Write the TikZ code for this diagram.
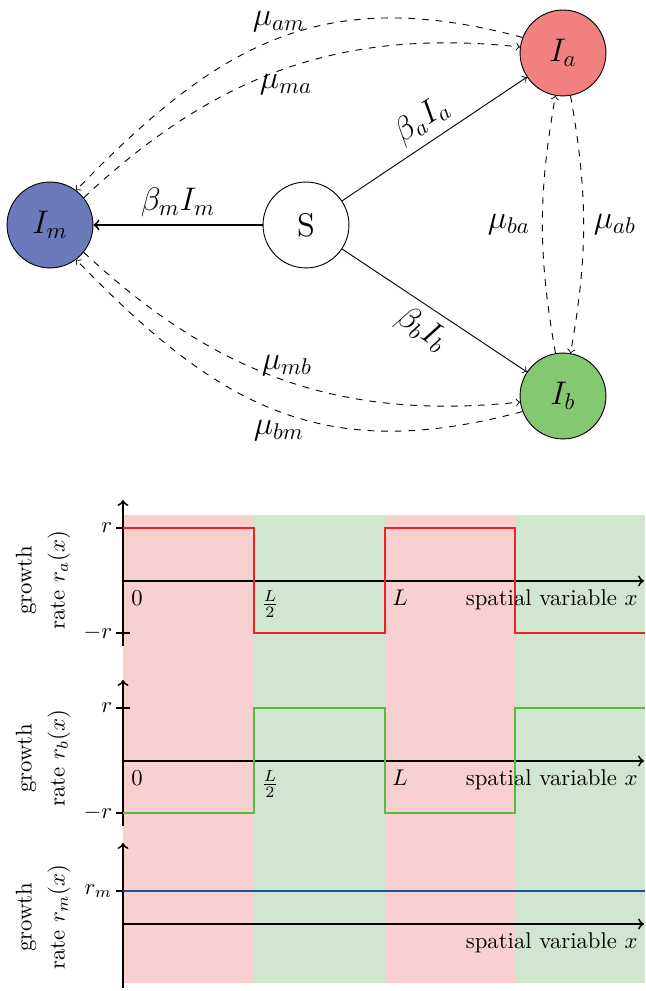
\documentclass[tikz,border=0pt]{standalone}
\definecolor{nodered}{RGB}{242,128,128}
\definecolor{nodegreen}{RGB}{133,200,114}
\definecolor{nodeblue}{RGB}{106,122,186}
\definecolor{bandred}{RGB}{248,208,208}
\definecolor{bandgreen}{RGB}{208,230,206}
\definecolor{linered}{RGB}{236,34,39}
\definecolor{linegreen}{RGB}{90,185,65}
\definecolor{lineblue}{RGB}{25,80,160}
\begin{document}
\begin{tikzpicture}[x=0.44pt,y=0.44pt,
  state/.style={circle,draw,minimum size=37.8pt,inner sep=0pt,font=\Large},
  mig/.style={->,dashed},
  lab/.style={font=\Large},
  axis/.style={thick},
  ticklab/.style={inner sep=1.5pt}]
\useasboundingbox (0,0) rectangle (645,991);
% ---- network ----
\node[state,fill=nodeblue] (Im) at (50,766) {$I_m$};
\node[state,fill=white] (S) at (306,766) {S};
\node[state,fill=nodered] (Ia) at (563,938) {$I_a$};
\node[state,fill=nodegreen] (Ib) at (563,595) {$I_b$};
\draw[thick,->] (S) -- node[above,lab] {$\beta_m I_m$} (Im);
\draw[->] (S) -- node[above,sloped,lab] {$\beta_a I_a$} (Ia);
\draw[->] (S) -- node[below,sloped,lab] {$\beta_b I_b$} (Ib);
\draw[mig] (Ia.159) to[out=165,in=46,looseness=1.12] (Im.53);
\draw[mig] (Im.39) to[out=43,in=174] (Ia.172);
\draw[mig] (Im.-39) to[out=-43,in=186] (Ib.188);
\draw[mig] (Ib.201) to[out=195,in=-46,looseness=1.12] (Im.-53);
\draw[mig] (Ib.100) to[out=100,in=260] (Ia.260);
\draw[mig] (Ia.280) to[out=280,in=80] (Ib.80);
\node[lab] (lam) at (279,969) {$\mu_{am}$};
\node[lab] (lma) at (286,906) {$\mu_{ma}$};
\node[lab] (lmb) at (287,625) {$\mu_{mb}$};
\node[lab] (lbm) at (279,560) {$\mu_{bm}$};
\node[lab] (lba) at (509,766) {$\mu_{ba}$};
\node[lab] (lab) at (615,766) {$\mu_{ab}$};
% ---- bands ----
\fill[bandred] (123,8) rectangle (253.8,476);
\fill[bandgreen] (254.3,8) rectangle (384.8,476);
\fill[bandred] (385.3,8) rectangle (514.8,476);
\fill[bandgreen] (515.3,8) rectangle (645,476);
% ---- plot 1 ----
\draw[axis,->] (123,345) -- (123,491);
\draw[axis,->] (123,410) -- (644,410);
\draw[axis] (116,463) -- (130,463) (116,358) -- (130,358)
  (254,403) -- (254,417) (385,403) -- (385,417);
\node[ticklab,anchor=east] (r1) at (116,463) {$r$};
\node[ticklab,anchor=east] (mr1) at (116,358) {$-r$};
\draw[linered,thick] (123,463) -- (254,463) -- (254,358) -- (385,358) -- (385,463) -- (515,463) -- (515,358) -- (645,358);
\node (z1) at (137,393) {$0$};
\node (h1) at (270,387) {$\frac{L}{2}$};
\node (l1) at (400,393) {$L$};
\node[anchor=base east,inner sep=0pt] (s1) at (638,385) {spatial variable $x$};
\node[rotate=90,align=center] (g1) at (43,411) {growth\\[2.5pt]rate $r_a(x)$};
% ---- plot 2 ----
\draw[axis,->] (123,165) -- (123,311);
\draw[axis,->] (123,230) -- (644,230);
\draw[axis] (116,283) -- (130,283) (116,178) -- (130,178)
  (254,223) -- (254,237) (385,223) -- (385,237);
\node[ticklab,anchor=east] (r2) at (116,283) {$r$};
\node[ticklab,anchor=east] (mr2) at (116,178) {$-r$};
\draw[linegreen,thick] (123,178) -- (254,178) -- (254,283) -- (385,283) -- (385,178) -- (515,178) -- (515,283) -- (645,283);
\node (z2) at (137,213) {$0$};
\node (h2) at (270,207) {$\frac{L}{2}$};
\node (l2) at (400,213) {$L$};
\node[anchor=base east,inner sep=0pt] (s2) at (638,205) {spatial variable $x$};
\node[rotate=90,align=center] (g2) at (43,233) {growth\\[2.5pt]rate $r_b(x)$};
% ---- plot 3 ----
\draw[axis,->] (123,3) -- (123,148);
\draw[axis,->] (123,67) -- (644,67);
\draw[axis] (116,100) -- (130,100);
\node[ticklab,anchor=east] (rm3) at (116,100) {$r_m$};
\draw[lineblue,thick] (123,100) -- (645,100);
\node[anchor=base east,inner sep=0pt] (s3) at (638,42) {spatial variable $x$};
\node[rotate=90,align=center] (g3) at (43,74) {growth\\[2.5pt]rate $r_m(x)$};
\end{tikzpicture}
\end{document}
